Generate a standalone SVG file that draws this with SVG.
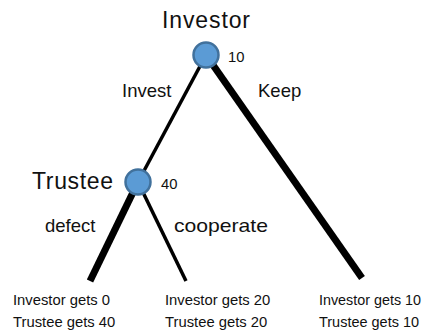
<svg xmlns="http://www.w3.org/2000/svg" width="423" height="331" viewBox="0 0 423 331">
<style>
text{font-family:"Liberation Sans",Arial,sans-serif;fill:#111}
.big{font-size:23px}
.mid{font-size:18.5px}
.sm{font-size:14.8px}
.node{fill:#5B9BD5;stroke:#41719C;stroke-width:2.5}
.thin{stroke:#000;stroke-width:3.5;fill:none}
.thick{stroke:#000;stroke-width:7;fill:none}
</style>
<rect width="423" height="331" fill="#fff"/>
<g id="connectors">
<line class="thin" x1="206" y1="55" x2="138" y2="182"/>
<line class="thick" x1="206" y1="55" x2="362" y2="278"/>
<line class="thick" x1="138" y1="182" x2="90" y2="281"/>
<line class="thin" x1="138" y1="182" x2="186" y2="281"/>
<text class="mid" x="122" y="97">Invest</text>
<text class="mid" x="258" y="97">Keep</text>
<text class="mid" x="45" y="232">defect</text>
<text class="mid" x="174" y="232" textLength="94" lengthAdjust="spacingAndGlyphs">cooperate</text>
</g>
<g id="investor">
<text class="big" x="162" y="28" textLength="88">Investor</text>
<circle class="node" cx="206" cy="55" r="12.5"/>
<text class="sm" x="228" y="62">10</text>
</g>
<g id="trustee">
<text class="big" x="32" y="189" textLength="81">Trustee</text>
<circle class="node" cx="138" cy="182" r="12.5"/>
<text class="sm" x="161" y="189">40</text>
</g>
<g id="outcome-defect">
<text class="sm" x="13" y="305">Investor gets 0</text>
<text class="sm" x="13" y="327">Trustee gets 40</text>
</g>
<g id="outcome-cooperate">
<text class="sm" x="165" y="305">Investor gets 20</text>
<text class="sm" x="165" y="327">Trustee gets 20</text>
</g>
<g id="outcome-keep">
<text class="sm" x="319" y="305" textLength="102" lengthAdjust="spacingAndGlyphs">Investor gets 10</text>
<text class="sm" x="319" y="327" textLength="100" lengthAdjust="spacingAndGlyphs">Trustee gets 10</text>
</g>
</svg>
